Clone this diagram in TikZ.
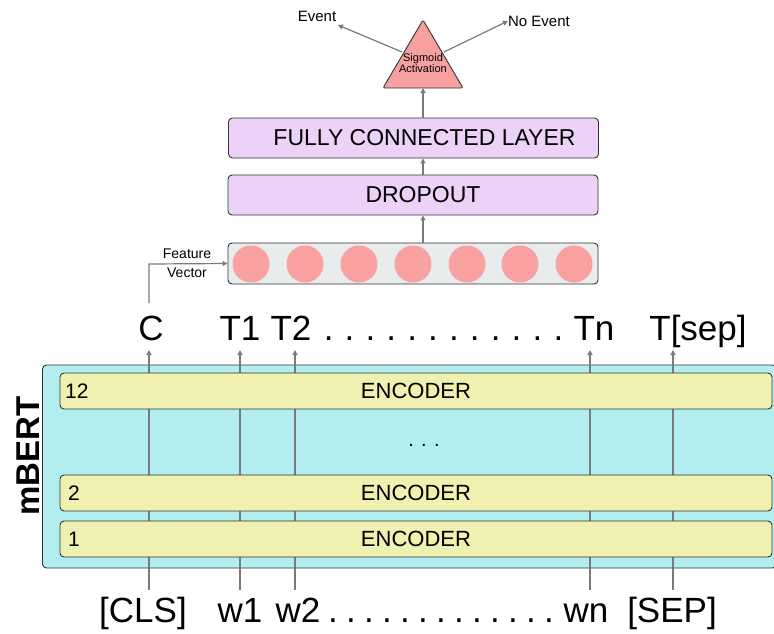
\documentclass[tikz,border=0pt]{standalone}
\usepackage{fontspec}
\setmainfont{Liberation Sans}
\usetikzlibrary{arrows.meta}
\definecolor{trifill}{HTML}{F7A0A0}
\definecolor{purp}{HTML}{EDD2F7}
\definecolor{graybox}{HTML}{E8ECEC}
\definecolor{dotred}{HTML}{F9A0A0}
\definecolor{cyanbox}{HTML}{B2EEF0}
\definecolor{yelbox}{HTML}{F0F0B0}
\definecolor{arrgray}{HTML}{7A7A7A}
\definecolor{edge}{HTML}{333333}
\newcommand{\dotrow}[2]{\makebox[#1]{\xleaders\hbox to #2{\hss.\hss}\hfill}}
\tikzset{
  arr/.style={draw=arrgray, line width=1.2pt, -{Triangle[length=5pt,width=5pt]}},
  layerbox/.style={draw=edge, line width=0.9pt, fill=purp, rounded corners=4pt, minimum width=370pt, minimum height=40pt, inner sep=0pt, font=\fontsize{23}{26}\selectfont},
  encbox/.style={draw=edge, line width=0.9pt, fill=yelbox, rounded corners=4pt, minimum width=712pt, minimum height=36pt, inner sep=0pt, font=\fontsize{22}{24}\selectfont},
  tok/.style={inner sep=0pt, anchor=base, font=\fontsize{35}{38}\selectfont},
  small/.style={inner sep=0pt, font=\fontsize{15}{17}\selectfont},
  circ/.style={circle, fill=dotred, minimum size=37pt, inner sep=0pt},
}
\begin{document}
\begin{tikzpicture}[x=1pt,y=-1pt]
\useasboundingbox (0,0) rectangle (774,633);
% mBERT container
\node[draw=edge, line width=0.9pt, fill=cyanbox, rounded corners=4pt, minimum width=734pt, minimum height=203pt, inner sep=0pt] (bert) at (409.5,466.5) {};
\node[rotate=90, inner sep=0pt, font=\fontsize{33}{35}\selectfont\bfseries] (bertlbl) at (28,456) {mBERT};
% bottom tokens
\node[tok] (cls) at (143,622) {[CLS]};
\node[tok] (w1) at (240,622) {w1};
\node[tok] (w2) at (298,622) {w2};
\node[tok] (wn) at (586,622) {wn};
\node[tok] (sep) at (672,622) {[SEP]};
\node[tok] (bdots) at (441,622) {\dotrow{234pt}{18pt}};
% top tokens
\node[tok] (c) at (151,340) {C};
\node[tok] (t1) at (240,340) {T1};
\node[tok] (t2) at (291,340) {T2};
\node[tok] (tn) at (594,340) {Tn};
\node[tok] (tsep) at (698,340) {T[sep]};
\node[tok] (tdots) at (443.5,340) {\dotrow{252pt}{19.4pt}};
% vertical lines
\coordinate (b1) at (149,590); \coordinate (a1) at (149,350);
\coordinate (b2) at (240,590); \coordinate (a2) at (240,350);
\coordinate (b3) at (295,590); \coordinate (a3) at (295,350);
\coordinate (b4) at (590,590); \coordinate (a4) at (590,350);
\coordinate (b5) at (673,590); \coordinate (a5) at (673,350);
\foreach \i in {1,...,5}{\draw[arr] (b\i) -- (a\i);}
% encoders
\node[encbox] (enc12) at (416,391) {ENCODER};
\node[encbox] (enc2) at (416,493) {ENCODER};
\node[encbox] (enc1) at (416,539) {ENCODER};
\node[anchor=west, inner sep=0pt, font=\fontsize{21}{24}\selectfont] (n12) at (65,391) {12};
\node[anchor=west, inner sep=0pt, font=\fontsize{21}{24}\selectfont] (n2) at (68,493) {2};
\node[anchor=west, inner sep=0pt, font=\fontsize{21}{24}\selectfont] (n1) at (68,539) {1};
\node[inner sep=0pt, font=\fontsize{20}{22}\selectfont] (edots) at (424,445) {. . .};
% feature vector
\node[draw=edge, line width=0.9pt, fill=graybox, rounded corners=4pt, minimum width=370pt, minimum height=41pt, inner sep=0pt] (fv) at (413,263.5) {};
\foreach \x [count=\k] in {251,305,359,413,467,520,574}{\node[circ] (c\k) at (\x,264) {};}
\coordinate (cstart) at (149,303);
\coordinate (cbend) at (149,264);
\draw[arr] (cstart) -- (cbend) -- (fv.west);
\node[small, font=\fontsize{14}{16}\selectfont] (feat) at (187,254) {Feature};
\node[small, font=\fontsize{14}{16}\selectfont] (vec) at (187,273) {Vector};
% dropout, fc
\node[layerbox] (drop) at (413,195) {\hspace*{20pt}DROPOUT};
\node[layerbox] (fc) at (413.5,138) {\hspace*{22pt}FULLY CONNECTED LAYER};
\draw[arr] (fv.north -| 423,0) -- (drop.south -| 423,0);
\draw[arr] (drop.north -| 423,0) -- (fc.south -| 423,0);
% sigmoid triangle
\coordinate (tapex) at (423,20);
\coordinate (tbl) at (383,88);
\coordinate (tbr) at (463,88);
\draw[draw=edge, line width=0.9pt, fill=trifill, rounded corners=2pt] (tbl) -- (tapex) -- (tbr) -- cycle;
\node[inner sep=0pt, align=center, font=\fontsize{11}{10.5}\selectfont] (sig) at (423,63) {Sigmoid\\Activation};
\draw[arr] (fc.north -| 423,0) -- (423,88);
% outputs
\node[small] (ev) at (317,16) {Event};
\node[small] (nev) at (539,21) {No Event};
\coordinate (tl) at (402,52);
\coordinate (tr) at (444,52);
\draw[arr] (tl) -- (338,25);
\draw[arr] (tr) -- (nev.west);
\end{tikzpicture}
\end{document}
